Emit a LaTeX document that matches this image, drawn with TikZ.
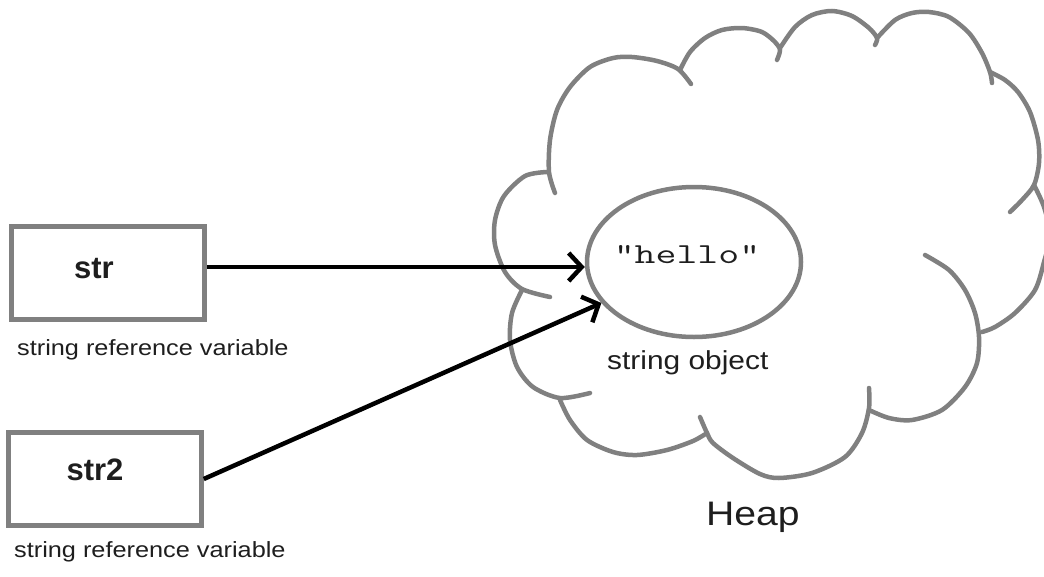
\documentclass[tikz,border=0pt]{standalone}
\usepackage{fontspec}
\setmainfont{Liberation Sans}
\newfontfamily\widesans[FakeStretch=1.15]{Liberation Sans}
\usetikzlibrary{shapes.geometric, arrows.meta}
\definecolor{cloud-gray}{RGB}{128,128,128}
\definecolor{ink}{RGB}{30,30,30}
\tikzset{
    cloudline/.style = {draw=cloud-gray, line width=4.5pt, line cap=round},
    varbox/.style = {draw=cloud-gray, line width=4.5pt, minimum width=193pt, minimum height=93pt},
    varname/.style = {anchor=base, text=ink, font=\fontsize{31}{36}\selectfont\bfseries},
    caption/.style = {anchor=base west, inner sep=0pt, text=ink, font=\widesans\fontsize{22}{26}\selectfont},
    objshape/.style = {ellipse, draw=cloud-gray, line width=4.5pt, minimum width=214pt, minimum height=150pt},
    ref/.style = {draw=black, line width=4.5pt, -{Straight Barb[length=13pt, width=28pt]}},
}

\begin{document}
\begin{tikzpicture}[x=1pt, y=-1pt]
\useasboundingbox (0,0) rectangle (1044,576);

% heap cloud, one bump at a time
\draw[cloudline] plot[smooth] coordinates {(547,172) (525,176) (504,196) (495,220) (495,245) (505,272) (522,289) (550,297)};
\draw[cloudline] plot[smooth] coordinates {(555,193) (549,172) (550,140) (557,110) (570,87) (590,67) (613,58) (632,57) (657,61) (678,69) (691,84)};
\draw[cloudline] plot[smooth] coordinates {(680,70) (690,52) (705,38) (722,30) (742,28) (762,32) (775,42) (780,50) (777,60)};
\draw[cloudline] plot[smooth] coordinates {(780,48) (795,27) (812,15) (832,11) (852,16) (869,28) (877,38) (875,45)};
\draw[cloudline] plot[smooth] coordinates {(877,38) (895,20) (912,13) (929,12) (949,17) (969,33) (982,53) (990,72) (992,83)};
\draw[cloudline] plot[smooth] coordinates {(990,72) (1005,80) (1018,92) (1030,112) (1038,140) (1039,163) (1034,185) (1022,200) (1010,212)};
\draw[cloudline] plot[smooth] coordinates {(1034,185) (1044,207) (1050,235) (1044,262) (1035,290) (1015,313) (995,327) (982,332)};
\draw[cloudline] plot[smooth] coordinates {(925,255) (949,270) (965,290) (975,313) (979,337) (977,363) (965,387) (942,410) (912,420) (889,418) (869,410)};
\draw[cloudline] plot[smooth] coordinates {(869,388) (869,408) (862,433) (845,457) (812,473) (779,478) (760,474) (733,458) (713,443) (707,433) (700,417)};
\draw[cloudline] plot[smooth] coordinates {(707,433) (693,441) (667,450) (637,455) (613,452) (587,440) (570,420) (560,400)};
\draw[cloudline] plot[smooth] coordinates {(522,290) (512,313) (510,340) (517,367) (533,387) (560,398) (590,393)};

\node[objshape] (obj) at (694,262) {};
\node[anchor=base, text=ink] (hello) at (687,263) {\scalebox{1.4}[1]{\ttfamily\fontsize{29}{34}\selectfont "hello"}};
\node[caption, font=\widesans\fontsize{26}{31}\selectfont] (objlabel) at (607,369) {string object};
\node[caption, font=\widesans\fontsize{34}{40}\selectfont] (heap) at (706,525) {Heap};

\node[varbox] (str) at (108,273) {};
\node[varname] (strname) at (94,278) {str};
\node[caption] (strlabel) at (17,355) {string reference variable};

\node[varbox] (str2) at (105,479) {};
\node[varname] (str2name) at (95,480) {str2};
\node[caption] (str2label) at (14,557) {string reference variable};

\draw[ref] ([yshift=6pt]str.east) -- ([yshift=6pt]str.east -| obj.west);
\draw[ref] (str2.east) -- (obj);

\end{tikzpicture}
\end{document}
